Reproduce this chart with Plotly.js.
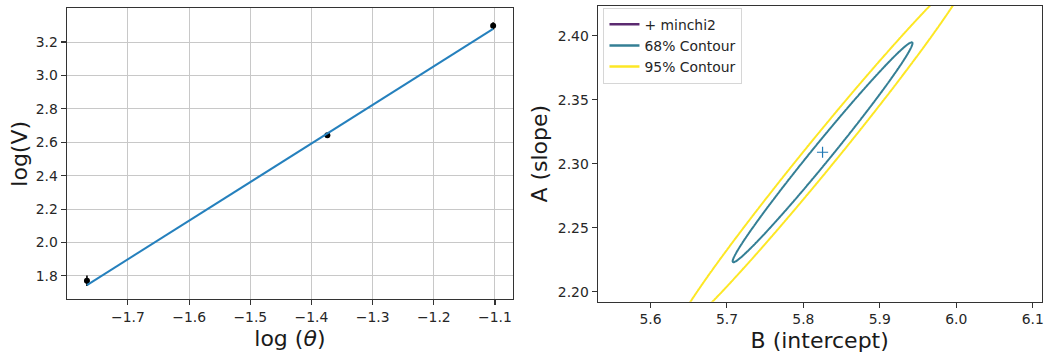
<!DOCTYPE html>
<html><head><meta charset="utf-8">
<script src="https://cdn.plot.ly/plotly-3.0.1.min.js"></script>
<style>html,body{margin:0;padding:0;background:#fff}#chart{width:1053px;height:354px}</style>
</head><body><div id="chart"></div>
<script>
// Data
const logTheta = [-1.767, -1.374, -1.103];
const logV = [1.771, 2.642, 3.297];
const logVErr = [0.031, 0.0127, 0.0219];
// Delta chi^2 levels for 68% and 95% contours (2 parameters)
const deltaChi2 = [2.30, 6.17];
const legendNames = ['+ minchi2', '68% Contour', '95% Contour'];
const levelColors = ['#5b2a70', '#347f95', '#fde725'];
// Tick labels
const leftXTicks = [-1.7, -1.6, -1.5, -1.4, -1.3, -1.2, -1.1];
const leftYTicks = [1.8, 2.0, 2.2, 2.4, 2.6, 2.8, 3.0, 3.2];
const rightXTicks = [5.6, 5.7, 5.8, 5.9, 6.0, 6.1];
const rightYTicks = [2.20, 2.25, 2.30, 2.35, 2.40];

// Weighted least squares fit: logV = B + A * logTheta
let S = 0, Sx = 0, Sxx = 0, Sy = 0, Sxy = 0;
for (let i = 0; i < logTheta.length; i++) {
  const w = 1 / (logVErr[i] * logVErr[i]);
  S += w; Sx += w * logTheta[i]; Sxx += w * logTheta[i] * logTheta[i];
  Sy += w * logV[i]; Sxy += w * logTheta[i] * logV[i];
}
const D = S * Sxx - Sx * Sx;
const slopeA = (S * Sxy - Sx * Sy) / D;
const interceptB = (Sxx * Sy - Sx * Sxy) / D;

function chi2(B, A) {
  let c = 0;
  for (let i = 0; i < logTheta.length; i++) {
    const r = (logV[i] - B - A * logTheta[i]) / logVErr[i];
    c += r * r;
  }
  return c;
}
const minChi2 = chi2(interceptB, slopeA);

// chi2 surface over a parameter grid
const Bgrid = [], Agrid = [];
for (let k = 0; k <= 440; k++) Bgrid.push(5.50 + k * 0.0015);
for (let k = 0; k <= 420; k++) Agrid.push(2.16 + k * 0.0007);
const Z = Agrid.map(a => Bgrid.map(b => chi2(b, a)));

const fitY = logTheta.map(x => interceptB + slopeA * x);

const font = {family: 'DejaVu Sans', color: '#262626'};
const tickfont = {family: 'DejaVu Sans', size: 13.9, color: '#262626'};
const titlefont = {family: 'DejaVu Sans', size: 22, color: '#1a1a1a'};

function contourTrace(level, color) {
  return {
    type: 'contour', x: Bgrid, y: Agrid, z: Z, xaxis: 'x2', yaxis: 'y2',
    autocontour: false,
    contours: {start: level, end: level, size: 1, coloring: 'lines', showlabels: false},
    colorscale: [[0, color], [1, color]], showscale: false,
    line: {width: 2, smoothing: 1}, hoverinfo: 'skip', showlegend: false
  };
}

const traces = [
  {type: 'scatter', mode: 'markers', x: logTheta, y: logV,
   marker: {color: '#000', size: 6},
   error_y: {type: 'data', array: logVErr, color: '#000', thickness: 1.6, width: 0},
   showlegend: false, xaxis: 'x', yaxis: 'y'},
  {type: 'scatter', mode: 'lines', x: logTheta, y: fitY,
   line: {color: '#2580bd', width: 2}, showlegend: false, xaxis: 'x', yaxis: 'y'},
  contourTrace(minChi2 + deltaChi2[0], levelColors[1]),
  contourTrace(minChi2 + deltaChi2[1], levelColors[2]),
  {type: 'scatter', mode: 'markers', x: [interceptB], y: [slopeA], xaxis: 'x2', yaxis: 'y2',
   marker: {symbol: 'cross-thin', size: 8, color: '#1f77b4', line: {color: '#1f77b4', width: 1.2}},
   showlegend: false},
  {type: 'scatter', mode: 'lines', x: [null], y: [null], xaxis: 'x2', yaxis: 'y2',
   name: legendNames[0], line: {color: levelColors[0], width: 2.5}},
  {type: 'scatter', mode: 'lines', x: [null], y: [null], xaxis: 'x2', yaxis: 'y2',
   name: legendNames[1], line: {color: levelColors[1], width: 2.5}},
  {type: 'scatter', mode: 'lines', x: [null], y: [null], xaxis: 'x2', yaxis: 'y2',
   name: legendNames[2], line: {color: levelColors[2], width: 2.5}}
];

const axisCommon = {
  showline: true, mirror: true, linecolor: '#333', linewidth: 1.1,
  ticks: 'outside', ticklen: 5, tickwidth: 1.1, tickcolor: '#333',
  zeroline: false, tickfont: tickfont, tickmode: 'array'
};

const layout = {
  width: 1053, height: 354,
  margin: {l: 0, r: 0, t: 0, b: 0},
  paper_bgcolor: '#fff', plot_bgcolor: '#fff',
  font: font,
  showlegend: true,
  legend: {x: 0.5731, y: 0.9780, xanchor: 'left', yanchor: 'top',
           bgcolor: 'rgba(255,255,255,0.8)', bordercolor: '#d6d6d6', borderwidth: 1,
           font: {family: 'DejaVu Sans', size: 13.9, color: '#262626'},
           itemwidth: 30, tracegroupgap: 0},
  xaxis: Object.assign({}, axisCommon, {
    domain: [0.0634, 0.4872], range: [-1.800, -1.0705],
    tickvals: leftXTicks, ticktext: leftXTicks.map(v => v.toFixed(1).replace('-', '\u2212')),
    showgrid: true, gridcolor: '#c8c8c8', gridwidth: 1, anchor: 'y',
    title: {text: 'log (<i>θ</i>)', font: titlefont, standoff: 6}
  }),
  yaxis: Object.assign({}, axisCommon, {
    domain: [0.1545, 0.9766], range: [1.660, 3.402],
    tickvals: leftYTicks, ticktext: leftYTicks.map(v => v.toFixed(1)),
    showgrid: true, gridcolor: '#c8c8c8', gridwidth: 1, anchor: 'x',
    title: {text: 'log(V)', font: titlefont, standoff: 2}
  }),
  xaxis2: Object.assign({}, axisCommon, {
    domain: [0.5676, 0.9893], range: [5.5309, 6.1118],
    tickvals: rightXTicks, ticktext: rightXTicks.map(v => v.toFixed(1)),
    showgrid: false, anchor: 'y2',
    title: {text: 'B (intercept)', font: titlefont, standoff: 6}
  }),
  yaxis2: Object.assign({}, axisCommon, {
    domain: [0.1477, 0.9839], range: [2.1922, 2.4234],
    tickvals: rightYTicks, ticktext: rightYTicks.map(v => v.toFixed(2)),
    showgrid: false, anchor: 'x2',
    title: {text: 'A (slope)', font: titlefont, standoff: 4}
  })
};

Plotly.newPlot('chart', traces, layout, {displayModeBar: false, staticPlot: true});
</script>
</body></html>
